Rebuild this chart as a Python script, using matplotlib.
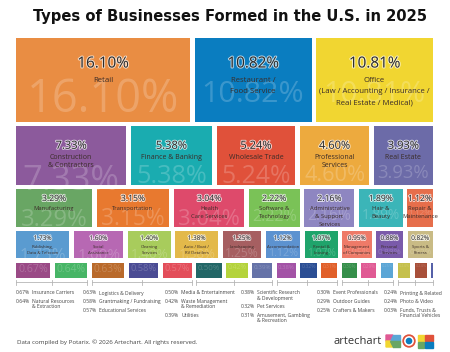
import matplotlib
matplotlib.use("Agg")
import matplotlib.pyplot as plt
import matplotlib.patheffects as pe
from matplotlib import font_manager as fm
from matplotlib.patches import Rectangle, Circle, Polygon

# ---- data ----
names = ["Retail", "Restaurant /\nFood Service",
         "Office\n(Law / Accounting / Insurance /\nReal Estate / Medical)",
         "Construction\n& Contractors", "Finance & Banking", "Wholesale Trade",
         "Professional\nServices", "Real Estate",
         "Manufacturing", "Transportation", "Health\nCare Services", "Software &\nTechnology",
         "Administrative\n& Support\nServices", "Hair &\nBeauty", "Repair &\nMaintenance",
         "Publishing,\nData & Telecom", "Social\nAssistance", "Cleaning\nServices",
         "Auto / Boat /\nRV Detailers", "Landscaping", "Accommodation", "Rental &\nLeasing",
         "Management\nof Companies", "Personal\nServices", "Sports &\nFitness"]
values = [16.10, 10.82, 10.81,
          7.33, 5.38, 5.24, 4.60, 3.93,
          3.29, 3.15, 3.04, 2.22, 2.16, 1.89, 1.12,
          1.73, 1.60, 1.40, 1.38, 1.25, 1.12, 1.07, 0.95, 0.88, 0.82]
colors = ["#E98D43", "#0A7DC0", "#F1D631",
          "#8C5A9C", "#1AACB0", "#E0513A", "#EDAA3E", "#6C6BA8",
          "#69A664", "#E8792F", "#DE4A6B", "#7AC257", "#8E86C1", "#3BB5B8", "#E66E4B",
          "#5A9BD0", "#B768B3", "#A8CC5C", "#E3B94A", "#A65F61", "#5C92D0", "#1FA46B",
          "#EE7A68", "#7A5AAA", "#C9BB85"]

small_names = ["Insurance Carriers", "Natural Resources\n& Extraction",
               "Logistics & Delivery", "Grantmaking / Fundraising", "Educational Services",
               "Media & Entertainment", "Waste Management\n& Remediation", "Utilities",
               "Scientific Research\n& Development", "Pet Services",
               "Amusement, Gambling\n& Recreation",
               "Event Professionals", "Outdoor Guides", "Crafters & Makers",
               "Printing & Related", "Photo & Video", "Funds, Trusts &\nFinancial Vehicles"]
small_values = [0.67, 0.64, 0.63, 0.58, 0.57, 0.50, 0.42, 0.39, 0.38,
                0.32, 0.31, 0.30, 0.29, 0.25, 0.24, 0.24, 0.03]
small_colors = ["#9A4A86", "#47B566", "#B96A2B", "#4B4C94", "#E34E5A", "#236767",
                "#B4D33C", "#6673A8", "#A353A6", "#2B4E94", "#E1602A", "#358F4A",
                "#E05A94", "#5BA6D6", "#C5C04C", "#A8503A", "#5560A8"]

# ---- layout ----
row_sizes = [3, 5, 7, 10, 17]
legend_groups = [[0, 1], [2, 3, 4], [5, 6, 7], [8, 9, 10], [11, 12, 13], [14, 15, 16]]
legend_x = [16, 83, 165, 241, 317, 384]

# per row: pct centre offset, label first line offset, line pitch, pct size, label size,
# watermark top fraction, watermark max size
row_style = [
    (26, 42, 11.5, 11, 5.6, 0.50, 40),
    (20, 31, 8, 8, 5.0, 0.66, 26),
    (9, 19, 8, 6.2, 4.2, 0.52, 20),
    (7, 15.5, 5.8, 4.6, 3.1, 0.62, 13),
    (0, 0, 0, 0, 0, 0.10, 11),
]

all_names = names + small_names
all_vals = values + small_values
all_cols = colors + small_colors

have = {f.name for f in fm.fontManager.ttflist}
dejavu_cond = any(f.name == "DejaVu Sans" and "Condensed" in f.fname for f in fm.fontManager.ttflist)
if "Liberation Sans Narrow" in have:
    title_font = dict(family="Liberation Sans Narrow", fontweight="bold")
elif dejavu_cond:
    title_font = dict(family="DejaVu Sans", fontstretch="condensed", fontweight="bold")
else:
    title_font = dict(family="DejaVu Sans", fontweight="bold")
body = "Open Sans" if "Open Sans" in have else "DejaVu Sans"

fig = plt.figure(figsize=(4.5, 3.52), dpi=100)
ax = fig.add_axes([0, 0, 1, 1])
ax.set_xlim(0, 450)
ax.set_ylim(352, 0)
ax.axis("off")
renderer = fig.canvas.get_renderer()


def fit(t, width, max_size):
    w = t.get_window_extent(renderer).width
    t.set_fontsize(min(t.get_fontsize() * width / w, max_size))


# title
t = ax.text(230, 17, "Types of Businesses Formed in the U.S. in 2025", ha="center", va="center",
            color="#111111", fontsize=16, **title_font)
fit(t, 395, 17)

# treemap rows
x0, x1, y0, y1 = 16, 433, 38, 278
gap = 4.5
total = sum(all_vals)
usable_h = (y1 - y0) - gap * (len(row_sizes) - 1)
boxes = []
k = 0
y = y0
for r, n in enumerate(row_sizes):
    idx = list(range(k, k + n))
    k += n
    rs = sum(all_vals[i] for i in idx)
    h = usable_h * rs / total
    usable_w = (x1 - x0) - gap * (n - 1)
    x = x0
    for i in idx:
        w = usable_w * all_vals[i] / rs
        boxes.append((x, y, w, h, r))
        x += w + gap
    y += h + gap

halo = [pe.withStroke(linewidth=1.4, foreground="white", alpha=0.7)]
for i, (x, y, w, h, r) in enumerate(boxes):
    rect = Rectangle((x, y), w, h, facecolor=all_cols[i], edgecolor="none")
    ax.add_patch(rect)
    pct_dy, lab_dy, pitch, pct_fs, lab_fs, wm_frac, wm_max = row_style[r]
    label = f"{all_vals[i]:.2f}%"

    # faint big watermark number
    wm = ax.text(x + w / 2, y + h, label, ha="center", va="baseline", color="white",
                 alpha=0.2, fontsize=10, family=body)
    fit(wm, w * 0.88, wm_max)
    fs_px = wm.get_fontsize() * 100 / 72
    wm.set_y(y + h * wm_frac + 0.72 * fs_px)
    wm.set_clip_path(rect)

    if r == 4:
        continue
    ax.text(x + w / 2, y + pct_dy, label, ha="center", va="center", color="#2b2b2b",
            fontsize=pct_fs, family=body, path_effects=halo)
    for j, line in enumerate(all_names[i].split("\n")):
        ax.text(x + w / 2, y + lab_dy + j * pitch, line, ha="center", va="center",
                color="#3a2c28", fontsize=lab_fs, family=body)

# small-category legend with brackets
small_boxes = boxes[len(values):]
for g, members in enumerate(legend_groups):
    bx0 = small_boxes[members[0]][0]
    last = small_boxes[members[-1]]
    bx1 = last[0] + last[2]
    ax.plot([bx0, bx1], [282, 282], color="#b5b5b5", lw=0.6)
    for xx in (bx0, (bx0 + bx1) / 2, bx1):
        ax.plot([xx, xx], [279.5, 284.5], color="#b5b5b5", lw=0.6)
    ly = 293
    for m in members:
        ax.text(legend_x[g], ly, f"{small_values[m]:.2f}%", ha="left", va="center",
                color="#444444", fontsize=3.6, family=body)
        lines = small_names[m].split("\n")
        for j, line in enumerate(lines):
            ax.text(legend_x[g] + 16, ly + j * 5.2, line, ha="left", va="center",
                    color="#444444", fontsize=3.6, family=body)
        ly += 8.5 + 5.2 * (len(lines) - 1)

# footer
ax.text(17, 342, "Data compiled by Potarix. \u00a9 2026 Artechart. All rights reserved.",
        ha="left", va="center", color="#444444", fontsize=4.4, family=body)
lg = ax.text(333, 341, "artechart", ha="left", va="center", color="#333333",
             fontsize=11, family=body)
fit(lg, 48, 12)
# logo marks
ax.add_patch(Polygon([[386, 335], [393, 335], [390, 341], [386, 341]], color="#E05A94"))
ax.add_patch(Polygon([[393, 335], [400, 335], [400, 341], [390, 341]], color="#5BA6D6"))
ax.add_patch(Polygon([[386, 341], [390, 341], [393, 347], [386, 347]], color="#F1D631"))
ax.add_patch(Polygon([[390, 341], [400, 341], [400, 347], [393, 347]], color="#69A664"))
ax.add_patch(Circle((409, 341), 6, color="#E0513A"))
ax.add_patch(Circle((409, 341), 4.2, color="white"))
ax.add_patch(Circle((409, 341), 2.6, color="#0A7DC0"))
ax.add_patch(Rectangle((418, 335), 6, 6, color="#F1D631"))
ax.add_patch(Rectangle((425, 335), 8, 6, color="#E0513A"))
ax.add_patch(Rectangle((418, 342), 6, 5.5, color="#69A664"))
ax.add_patch(Rectangle((425, 342), 8, 5.5, color="#0A7DC0"))

fig.savefig("out.png", dpi=100, facecolor="white")
